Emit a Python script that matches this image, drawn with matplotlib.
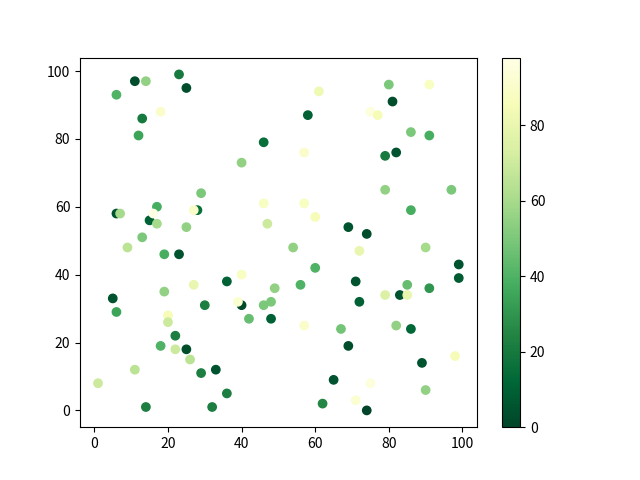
import matplotlib
matplotlib.use("Agg")
import matplotlib.pyplot as plt

plt.rcParams['font.family'] = ['Noto Sans CJK SC', 'DejaVu Sans']
plt.rcParams['axes.unicode_minus'] = False

x_vals = [1, 5, 6, 6, 7, 6, 9, 11, 11, 12, 13, 13, 14, 14, 15, 17, 17, 18, 18, 19,
          19, 20, 20, 22, 22, 23, 23, 25, 25, 25, 26, 28, 27, 27, 29, 29, 30, 32, 33, 36,
          36, 40, 40, 39, 40, 42, 46, 46, 46, 47, 48, 48, 49, 54, 56, 57, 57, 57, 58, 60,
          60, 61, 62, 65, 67, 69, 69, 71, 71, 72, 72, 74, 74, 75, 75, 77, 79, 79, 79, 80,
          81, 82, 82, 83, 85, 85, 86, 86, 86, 89, 90, 90, 91, 91, 91, 97, 98, 99, 99, 16]
y_vals = [8, 33, 29, 58, 58, 93, 48, 97, 12, 81, 86, 51, 97, 1, 56, 60, 55, 88, 19, 46,
          35, 28, 26, 22, 18, 99, 46, 95, 54, 18, 15, 59, 59, 37, 64, 11, 31, 1, 12, 38,
          5, 40, 31, 32, 73, 27, 79, 61, 31, 55, 32, 27, 36, 48, 37, 76, 61, 25, 87, 57,
          42, 94, 2, 9, 24, 54, 19, 38, 3, 47, 32, 52, 0, 88, 8, 87, 75, 65, 34, 96,
          91, 76, 25, 34, 37, 34, 82, 59, 24, 14, 48, 6, 96, 81, 36, 65, 16, 43, 39, 58]
c_vals = [70, 5, 35, 5, 60, 40, 65, 3, 65, 35, 20, 50, 55, 22, 10, 38, 60, 90, 40, 38,
          55, 85, 70, 22, 70, 20, 5, 3, 55, 3, 65, 15, 90, 80, 50, 22, 22, 22, 5, 10,
          22, 88, 2, 92, 55, 45, 15, 88, 50, 70, 50, 10, 55, 55, 40, 90, 88, 90, 10, 85,
          40, 82, 25, 5, 48, 5, 3, 5, 92, 80, 10, 3, 0, 95, 95, 85, 20, 55, 75, 50,
          3, 5, 55, 5, 45, 80, 50, 38, 12, 5, 60, 55, 88, 38, 30, 50, 85, 5, 8, 98]

fig, ax = plt.subplots(figsize=(6.4, 4.8), dpi=100)
sc = ax.scatter(x_vals, y_vals, c=c_vals, cmap='YlGn_r')
fig.colorbar(sc, ax=ax)
fig.savefig('out.png')
